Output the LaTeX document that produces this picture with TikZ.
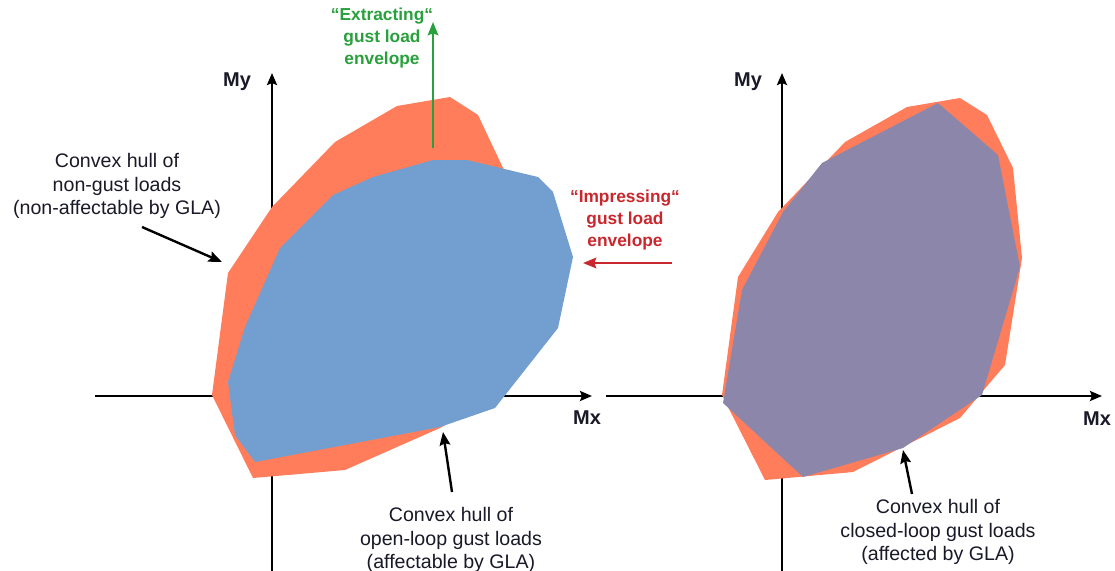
\documentclass[tikz,border=0pt]{standalone}
\usepackage{fontspec}
\setmainfont{Liberation Sans}
\usepackage{xcolor}
\usepackage{tikz}
\usetikzlibrary{arrows.meta}
\definecolor{hullOrange}{RGB}{255,125,90}
\definecolor{hullBlue}  {RGB}{114,159,207}
\definecolor{hullPurple}{RGB}{141,134,171}
\definecolor{envGreen}  {RGB}{40,160,60}
\definecolor{envRed}    {RGB}{200,40,45}
\definecolor{txtDark}   {RGB}{25,25,40}

\begin{document}
\begin{tikzpicture}[x=0.75pt,y=-0.75pt,
        ax/.style={draw=black,line width=1.8pt,
                   -{Stealth[length=9pt,width=7.5pt,inset=1.5pt]}},
        ptr/.style={draw=black,line width=1.8pt,
                    -{Stealth[length=10pt,width=8pt,inset=1.5pt]}},
        lbl/.style={font=\fontsize{14.7}{17.5}\selectfont,text=txtDark,align=center},
        axl/.style={font=\bfseries\fontsize{15}{18}\selectfont,text=txtDark},
        env/.style={font=\bfseries\fontsize{13}{16.5}\selectfont,align=center}]

        \useasboundingbox (0,0) rectangle (1115,571);

        % axes
        \coordinate (xL0) at (95,396);   \coordinate (xL1) at (592,396);
        \coordinate (yL0) at (272,571);  \coordinate (yL1) at (272,73);
        \coordinate (xR0) at (606,396);  \coordinate (xR1) at (1102,396);
        \coordinate (yR0) at (782,571);  \coordinate (yR1) at (782,73);
        \foreach \a/\b in {xL0/xL1,yL0/yL1,xR0/xR1,yR0/yR1}{
          \draw[ax] (\a)--(\b);
        }

        % open-loop panel
        \fill[hullOrange] (450,97) -- (478,115) -- (503,168) -- (545,230)
          -- (530,330) -- (480,405) -- (440,428) -- (345,470) -- (253,478)
          -- (212,395) -- (228,273) -- (272,207) -- (335,142) -- (397,106) -- cycle;
        \fill[hullBlue] (433,160) -- (467,160) -- (538,177) -- (553,192)
          -- (573,257) -- (558,328) -- (495,408) -- (440,427) -- (255,462)
          -- (235,435) -- (228,382) -- (245,327) -- (280,248) -- (333,195)
          -- (373,177) -- cycle;

        % closed-loop panel
        \fill[hullOrange] (960,98) -- (987,115) -- (1013,168) -- (1022,258)
          -- (1005,365) -- (960,418) -- (853,472) -- (765,480) -- (722,395)
          -- (738,277) -- (778,212) -- (845,142) -- (907,107) -- cycle;
        \fill[hullPurple] (938,103) -- (998,155) -- (1020,267) -- (982,395)
          -- (903,448) -- (803,477) -- (723,403) -- (742,290) -- (783,212)
          -- (822,163) -- cycle;

        % axis labels
        \node[axl] (myL) at (237,82)  {My};
        \node[axl] (mxL) at (587,418) {Mx};
        \node[axl] (myR) at (748,82)  {My};
        \node[axl] (mxR) at (1097,419){Mx};

        % texts
        \node[lbl] (nongust) at (117,186) {Convex hull of\\non-gust loads\\(non-affectable by GLA)};
        \node[lbl] (openlp)  at (451,540) {Convex hull of\\open-loop gust loads\\(affectable by GLA)};
        \node[lbl] (closedlp) at (938,532) {Convex hull of\\closed-loop gust loads\\(affected by GLA)};
        \node[env,text=envGreen] (extr) at (382,38) {“Extracting“\\gust load\\envelope};
        \node[env,text=envRed]   (impr) at (625,220) {“Impressing“\\gust load\\envelope};

        % pointers
        \coordinate (ngTail) at (142,227); \coordinate (ngTip) at (222,262);
        \coordinate (olTail) at (452,492); \coordinate (olTip) at (443,432);
        \coordinate (clTail) at (912,494); \coordinate (clTip) at (903,450);
        \coordinate (exTail) at (433,148); \coordinate (exTip) at (433,22);
        \coordinate (imTail) at (672,263); \coordinate (imTip) at (583,263);
        \foreach \a/\b in {ngTail/ngTip,olTail/olTip,clTail/clTip}{
          \draw[ptr] (\a)--(\b);
        }
        \draw[ptr,draw=envGreen,line width=1.5pt] (exTail)--(exTip);
        \draw[ptr,draw=envRed,line width=1.5pt] (imTail)--(imTip);
      \end{tikzpicture}
\end{document}
